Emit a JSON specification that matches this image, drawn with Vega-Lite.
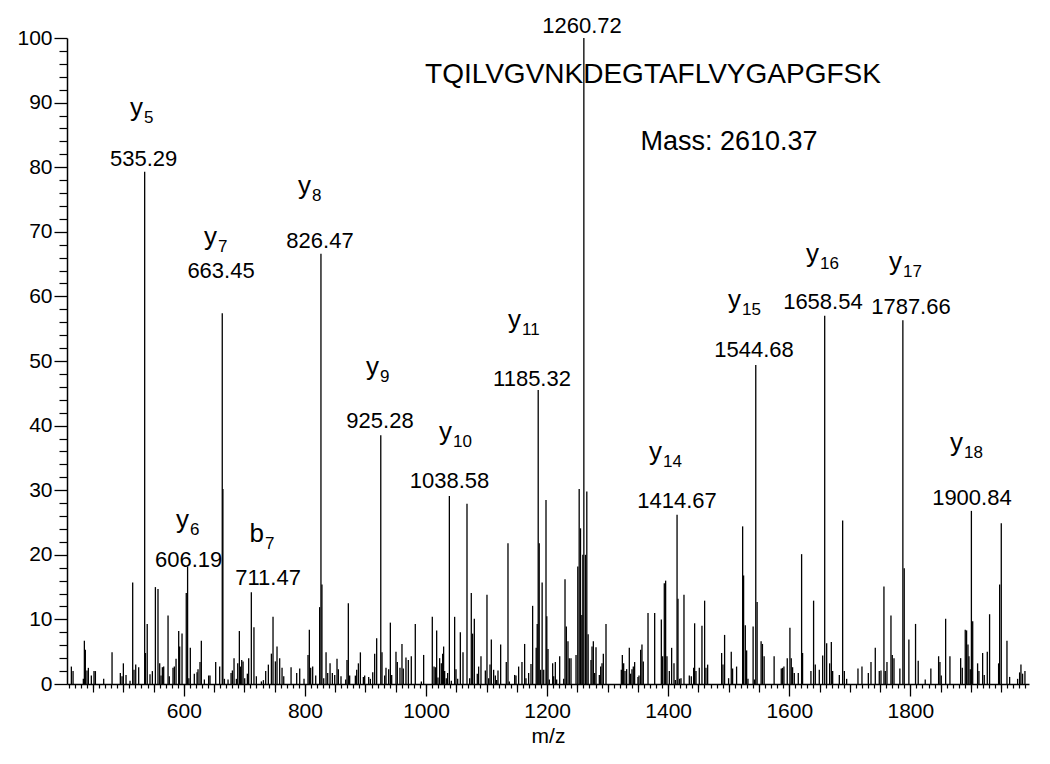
{
  "$schema": "https://vega.github.io/schema/vega-lite/v6.json",
  "width": 962,
  "height": 646,
  "autosize": {"type": "none"},
  "padding": {"left": 67, "top": 38, "right": 21, "bottom": 80},
  "background": "white",
  "config": {
    "view": {"stroke": null},
    "axis": {"domainColor": "black", "tickColor": "black", "labelColor": "black", "titleColor": "black", "grid": false, "labelFont": "Liberation Sans", "titleFont": "Liberation Sans"}
  },
  "datasets": {
    "peaks": [
      {"mz":414.2,"i":2.7},{"mz":417,"i":2.0},{"mz":434,"i":0.8},{"mz":435.7,"i":6.7},{"mz":437.3,"i":5.3},{"mz":440,"i":2.1},{"mz":442.3,"i":2.5},{"mz":447.2,"i":1.3},{"mz":451.6,"i":2.0},{"mz":453.9,"i":2.0},{"mz":467.6,"i":0.8},{"mz":481.4,"i":4.9},{"mz":495.1,"i":1.7},{"mz":497.9,"i":1.2},{"mz":500.1,"i":3.2},{"mz":504.5,"i":1.4},{"mz":511.1,"i":0.5},{"mz":515.5,"i":15.7},{"mz":517.7,"i":2.2},{"mz":520.5,"i":3.0},{"mz":525.4,"i":2.6},
      {"mz":535.29,"i":79.3},{"mz":536.6,"i":4.8},{"mz":539.5,"i":9.3},{"mz":544.1,"i":1.5},{"mz":548,"i":2.0},{"mz":553,"i":15.0},{"mz":557.3,"i":14.7},{"mz":560.1,"i":3.2},{"mz":562.3,"i":1.3},{"mz":564.5,"i":2.6},{"mz":566.7,"i":2.7},{"mz":573.9,"i":10.6},{"mz":576,"i":1.2},{"mz":582.1,"i":2.5},{"mz":584.3,"i":2.7},{"mz":587.1,"i":3.9},{"mz":591.5,"i":8.2},{"mz":593.1,"i":5.8},{"mz":597,"i":7.8},{"mz":604,"i":14.1},{"mz":606.19,"i":18.2},{"mz":608.3,"i":0.9},{"mz":610.7,"i":5.6},{"mz":617.3,"i":1.6},{"mz":621.8,"i":1.8},{"mz":623.4,"i":2.3},{"mz":626.7,"i":3.4},{"mz":628.9,"i":6.7},{"mz":633.9,"i":0.7},{"mz":641,"i":1.3},{"mz":643.2,"i":1.3},{"mz":652.6,"i":3.4},{"mz":659.2,"i":2.7},
      {"mz":663.45,"i":57.4},{"mz":664.5,"i":30.2},{"mz":667,"i":0.8},{"mz":673,"i":0.7},{"mz":678,"i":1.7},{"mz":680.2,"i":2.1},{"mz":682.9,"i":4.0},{"mz":686.8,"i":0.8},{"mz":689,"i":3.2},{"mz":691.7,"i":8.2},{"mz":693.4,"i":2.7},{"mz":695.6,"i":3.7},{"mz":697.8,"i":3.5},{"mz":700.5,"i":0.9},{"mz":704.9,"i":1.6},{"mz":707.1,"i":4.0},{"mz":711.47,"i":14.2},{"mz":715.8,"i":8.8},{"mz":719.8,"i":1.2},{"mz":728.1,"i":0.4},{"mz":731.4,"i":0.6},{"mz":735.2,"i":2.0},{"mz":739.6,"i":3.0},{"mz":744.6,"i":4.7},{"mz":747.3,"i":10.4},{"mz":751.2,"i":3.5},{"mz":753.9,"i":5.8},{"mz":758.3,"i":4.0},{"mz":762.2,"i":2.5},{"mz":765,"i":1.2},{"mz":777.1,"i":2.6},{"mz":786.4,"i":1.7},{"mz":791.4,"i":2.4},{"mz":798.5,"i":0.8},
      {"mz":805.1,"i":4.5},{"mz":807.3,"i":8.4},{"mz":809.5,"i":2.5},{"mz":812.8,"i":2.7},{"mz":817.8,"i":1.3},{"mz":824.3,"i":11.9},{"mz":826.47,"i":66.6},{"mz":828.1,"i":15.4},{"mz":831,"i":0.9},{"mz":834.9,"i":4.9},{"mz":837.6,"i":1.7},{"mz":841.5,"i":3.2},{"mz":845.3,"i":1.7},{"mz":849.2,"i":1.4},{"mz":853,"i":3.9},{"mz":855.2,"i":2.3},{"mz":859.6,"i":1.2},{"mz":867.3,"i":0.7},{"mz":869.5,"i":3.7},{"mz":871.7,"i":12.5},{"mz":873.9,"i":1.3},{"mz":883.3,"i":1.3},{"mz":885.5,"i":2.2},{"mz":888.3,"i":3.2},{"mz":891.6,"i":4.9},{"mz":896.5,"i":1.1},{"mz":898.7,"i":1.3},{"mz":905.3,"i":1.1},{"mz":908.1,"i":0.8},{"mz":912,"i":1.8},{"mz":915.2,"i":4.7},{"mz":918.5,"i":7.1},
      {"mz":925.28,"i":38.5},{"mz":927.3,"i":4.9},{"mz":931.7,"i":1.3},{"mz":933.9,"i":2.5},{"mz":938.3,"i":2.3},{"mz":941.1,"i":9.5},{"mz":943.3,"i":1.4},{"mz":950.4,"i":5.0},{"mz":952.6,"i":3.4},{"mz":957,"i":2.5},{"mz":960.3,"i":6.2},{"mz":962.5,"i":2.4},{"mz":966.9,"i":4.1},{"mz":970.8,"i":3.7},{"mz":975.7,"i":4.3},{"mz":982.3,"i":9.3},{"mz":992.3,"i":0.4},{"mz":996.1,"i":4.5},
      {"mz":1010.4,"i":10.4},{"mz":1013.2,"i":2.7},{"mz":1015.4,"i":2.6},{"mz":1017.6,"i":8.3},{"mz":1019.8,"i":1.0},{"mz":1022.5,"i":4.0},{"mz":1025.3,"i":3.2},{"mz":1027.5,"i":4.7},{"mz":1029.1,"i":5.8},{"mz":1030.8,"i":2.0},{"mz":1033.5,"i":0.9},{"mz":1035.7,"i":1.7},{"mz":1038.58,"i":29.1},{"mz":1041.8,"i":0.5},{"mz":1047.3,"i":10.4},{"mz":1049.5,"i":2.3},{"mz":1052.3,"i":0.8},{"mz":1056.7,"i":8.0},{"mz":1061.1,"i":4.9},{"mz":1067.7,"i":27.9},{"mz":1072.1,"i":0.9},{"mz":1074.8,"i":14.1},{"mz":1077,"i":7.8},{"mz":1079.8,"i":10.1},{"mz":1084.7,"i":1.6},{"mz":1086.9,"i":2.7},{"mz":1090.8,"i":4.3},{"mz":1098,"i":2.1},
      {"mz":1100.7,"i":13.8},{"mz":1103.5,"i":0.9},{"mz":1105.7,"i":3.0},{"mz":1107.9,"i":6.9},{"mz":1111.7,"i":2.2},{"mz":1114.5,"i":1.3},{"mz":1116.7,"i":0.6},{"mz":1118.9,"i":2.1},{"mz":1123.3,"i":6.1},{"mz":1132.6,"i":3.4},{"mz":1135.4,"i":21.8},{"mz":1137.6,"i":0.4},{"mz":1146.4,"i":1.4},{"mz":1148.6,"i":1.3},{"mz":1153,"i":2.7},{"mz":1158.5,"i":3.4},{"mz":1162.9,"i":6.2},{"mz":1165.1,"i":0.9},{"mz":1169.5,"i":1.7},{"mz":1173.4,"i":3.1},{"mz":1176.1,"i":12.1},{"mz":1182,"i":5.6},{"mz":1183.7,"i":9.3},{"mz":1185.32,"i":45.5},{"mz":1187,"i":21.8},{"mz":1189.2,"i":2.2},{"mz":1191.8,"i":15.7},{"mz":1194.4,"i":2.2},{"mz":1198.2,"i":28.5},{"mz":1199.5,"i":10.5},
      {"mz":1201.5,"i":5.4},{"mz":1203.7,"i":0.7},{"mz":1209.2,"i":3.2},{"mz":1210.9,"i":1.2},{"mz":1213.6,"i":3.4},{"mz":1215.8,"i":0.7},{"mz":1220.8,"i":4.3},{"mz":1227.4,"i":0.8},{"mz":1229.6,"i":16.2},{"mz":1231.8,"i":8.9},{"mz":1234.5,"i":6.6},{"mz":1236.7,"i":4.0},{"mz":1239.5,"i":4.0},{"mz":1247.8,"i":4.5},{"mz":1250.7,"i":18.2},{"mz":1253,"i":30.2},{"mz":1255.2,"i":24.1},{"mz":1257.4,"i":10.7},{"mz":1259,"i":20.0},{"mz":1260.72,"i":100},{"mz":1263.4,"i":20.0},{"mz":1265.6,"i":29.8},{"mz":1267.8,"i":7.7},{"mz":1272.5,"i":3.7},{"mz":1274.2,"i":5.8},{"mz":1276.4,"i":6.6},{"mz":1278.6,"i":1.7},{"mz":1280.8,"i":5.7},{"mz":1286.3,"i":1.4},{"mz":1288.5,"i":2.7},{"mz":1290.7,"i":3.2},{"mz":1292.9,"i":4.7},{"mz":1297.3,"i":9.3},
      {"mz":1322.6,"i":2.2},{"mz":1324.3,"i":4.5},{"mz":1326.5,"i":3.2},{"mz":1328.7,"i":2.0},{"mz":1331.4,"i":2.3},{"mz":1335.8,"i":5.6},{"mz":1338,"i":1.6},{"mz":1340.2,"i":2.3},{"mz":1342.4,"i":2.7},{"mz":1344.6,"i":3.4},{"mz":1350.1,"i":1.1},{"mz":1351.8,"i":1.3},{"mz":1354.5,"i":5.3},{"mz":1356.7,"i":6.1},{"mz":1358.9,"i":3.5},{"mz":1366.7,"i":11.0},{"mz":1377.7,"i":11.0},{"mz":1388.7,"i":10.0},{"mz":1390.9,"i":4.3},{"mz":1393.6,"i":15.6},{"mz":1395.8,"i":16.0},{"mz":1398,"i":4.3},
      {"mz":1401.9,"i":2.0},{"mz":1405.7,"i":5.6},{"mz":1409.6,"i":3.2},{"mz":1411.8,"i":0.6},{"mz":1414.67,"i":26.2},{"mz":1416.2,"i":13.2},{"mz":1419,"i":0.8},{"mz":1421.2,"i":0.9},{"mz":1426.1,"i":13.8},{"mz":1434.9,"i":1.3},{"mz":1438.2,"i":1.2},{"mz":1442.1,"i":2.5},{"mz":1443.7,"i":9.4},{"mz":1445.9,"i":2.0},{"mz":1451.4,"i":2.5},{"mz":1455.8,"i":9.0},{"mz":1460.2,"i":12.9},{"mz":1462.4,"i":2.5},{"mz":1465.2,"i":3.0},{"mz":1488.3,"i":4.8},{"mz":1490.5,"i":3.0},{"mz":1493.2,"i":7.6},{"mz":1499.8,"i":0.9},
      {"mz":1504.2,"i":5.0},{"mz":1506.4,"i":2.4},{"mz":1513,"i":2.7},{"mz":1523,"i":24.4},{"mz":1524.6,"i":16.8},{"mz":1527.4,"i":9.1},{"mz":1529.6,"i":5.2},{"mz":1531.8,"i":0.8},{"mz":1540.3,"i":8.9},{"mz":1542.5,"i":0.7},{"mz":1544.68,"i":49.4},{"mz":1546.9,"i":12.7},{"mz":1553.5,"i":6.6},{"mz":1555.7,"i":6.2},{"mz":1558.5,"i":4.3},{"mz":1575,"i":4.3},{"mz":1586.8,"i":2.4},{"mz":1589,"i":2.5},{"mz":1591.2,"i":2.7},{"mz":1596.7,"i":4.0},
      {"mz":1601.1,"i":8.7},{"mz":1603.3,"i":4.0},{"mz":1605.5,"i":2.6},{"mz":1608.3,"i":1.7},{"mz":1614.9,"i":1.7},{"mz":1620.4,"i":20.1},{"mz":1622,"i":4.8},{"mz":1635.8,"i":2.0},{"mz":1640.2,"i":12.9},{"mz":1643,"i":3.0},{"mz":1649.6,"i":2.2},{"mz":1655.2,"i":4.4},{"mz":1658.54,"i":57.0},{"mz":1661.8,"i":6.3},{"mz":1666.7,"i":3.2},{"mz":1669.5,"i":6.5},{"mz":1671.7,"i":2.0},{"mz":1682.7,"i":1.4},{"mz":1688.2,"i":25.3},{"mz":1691,"i":2.0},{"mz":1694.8,"i":0.8},
      {"mz":1713.5,"i":2.4},{"mz":1720.1,"i":2.7},{"mz":1730.6,"i":1.7},{"mz":1735,"i":3.4},{"mz":1742.1,"i":5.6},{"mz":1748.7,"i":2.0},{"mz":1751.5,"i":2.1},{"mz":1756.4,"i":15.1},{"mz":1758.6,"i":2.0},{"mz":1761.4,"i":3.4},{"mz":1768,"i":10.6},{"mz":1770.2,"i":4.5},{"mz":1773,"i":4.0},{"mz":1782.7,"i":2.4},{"mz":1787.66,"i":56.3},{"mz":1789.9,"i":17.9},{"mz":1797.6,"i":6.9},
      {"mz":1808.6,"i":9.3},{"mz":1813,"i":3.6},{"mz":1824.6,"i":0.7},{"mz":1833.9,"i":2.4},{"mz":1846.7,"i":4.3},{"mz":1848.9,"i":3.4},{"mz":1851.1,"i":1.3},{"mz":1858.3,"i":10.1},{"mz":1865.4,"i":4.3},{"mz":1883.1,"i":4.0},{"mz":1885.8,"i":2.5},{"mz":1890.7,"i":8.4},{"mz":1892.9,"i":8.3},{"mz":1895.2,"i":6.1},{"mz":1896.8,"i":4.3},{"mz":1899,"i":2.3},{"mz":1900.84,"i":26.8},{"mz":1903,"i":9.7},
      {"mz":1911.1,"i":3.2},{"mz":1913.3,"i":2.0},{"mz":1919.4,"i":4.8},{"mz":1922.1,"i":1.4},{"mz":1927.1,"i":5.0},{"mz":1930.9,"i":10.8},{"mz":1945.8,"i":3.2},{"mz":1947.5,"i":15.4},{"mz":1950.2,"i":24.9},{"mz":1959.6,"i":6.7},{"mz":1964,"i":1.1},{"mz":1977.2,"i":0.8},{"mz":1980.5,"i":1.8},{"mz":1982.7,"i":3.0},{"mz":1985.4,"i":1.6},{"mz":1989.3,"i":2.0}
    ],
    "ann": [
      {"ion":"y","sub":"5","ix":532.6,"iy":87.9,"num":"535.29","nx":533.5,"ny":80.2},
      {"ion":"y","sub":"6","ix":608.6,"iy":24.2,"num":"606.19","nx":607.8,"ny":18.15},
      {"ion":"b","sub":"7","ix":732.5,"iy":22.0,"num":"711.47","nx":739.1,"ny":15.4},
      {"ion":"y","sub":"7","ix":654.8,"iy":68.0,"num":"663.45","nx":661.4,"ny":62.9},
      {"ion":"y","sub":"8","ix":810.1,"iy":75.9,"num":"826.47","nx":824.9,"ny":67.5},
      {"ion":"y","sub":"9","ix":922.3,"iy":47.8,"num":"925.28","nx":924.0,"ny":39.7},
      {"ion":"y","sub":"10","ix":1042.9,"iy":37.8,"num":"1038.58","nx":1038.8,"ny":30.4},
      {"ion":"y","sub":"11","ix":1156.9,"iy":55.1,"num":"1185.32","nx":1175.1,"ny":46.2},
      {"ion":"","sub":"","ix":1257.6,"iy":100.8,"num":"1260.72","nx":1257.6,"ny":100.8},
      {"ion":"y","sub":"14","ix":1389.8,"iy":34.6,"num":"1414.67","nx":1414.5,"ny":27.3},
      {"ion":"y","sub":"15","ix":1520.2,"iy":58.2,"num":"1544.68","nx":1541.7,"ny":50.6},
      {"ion":"y","sub":"16","ix":1649.0,"iy":65.4,"num":"1658.54","nx":1655.6,"ny":58.1},
      {"ion":"y","sub":"17","ix":1786.1,"iy":64.1,"num":"1787.66","nx":1801.0,"ny":57.3},
      {"ion":"y","sub":"18","ix":1886.9,"iy":36.1,"num":"1900.84","nx":1901.7,"ny":27.7}
    ],
    "notes": [
      {"txt":"TQILVGVNKDEGTAFLVYGAPGFSK","x":1374.9,"y":93.0,"size":28},
      {"txt":"Mass: 2610.37","x":1500.4,"y":82.7,"size":27}
    ]
  },
  "resolve": {"axis": {"x": "independent", "y": "independent"}},
  "layer": [
    {
      "data": {"name": "peaks"},
      "mark": {"type": "rule", "color": "black", "strokeWidth": 1.3},
      "encoding": {
        "x": {"field": "mz", "type": "quantitative", "scale": {"domain": [407, 1996], "nice": false, "zero": false},
          "axis": {"orient": "bottom", "values": [600, 800, 1000, 1200, 1400, 1600, 1800], "format": "d", "tickSize": 12, "tickWidth": 1.3, "domainWidth": 1.5, "labelFontSize": 21, "labelPadding": 4, "labelFlush": false, "title": "m/z", "titleFontSize": 21, "titleFontWeight": "normal", "titlePadding": 4}},
        "y": {"field": "i", "type": "quantitative", "scale": {"domain": [0, 100], "nice": false},
          "axis": {"orient": "left", "values": [0, 10, 20, 30, 40, 50, 60, 70, 80, 90, 100], "format": "d", "tickSize": 13, "tickWidth": 1.3, "domainWidth": 1.5, "labelFontSize": 21, "labelPadding": 2, "title": null}},
        "y2": {"datum": 0}
      }
    },
    {
      "data": {"name": "ann"},
      "mark": {"type": "text", "align": "right", "baseline": "alphabetic", "fontSize": 26, "font": "Liberation Sans", "color": "black"},
      "encoding": {
        "x": {"field": "ix", "type": "quantitative",
          "axis": {"orient": "bottom", "values": [450, 500, 550, 650, 700, 750, 850, 900, 950, 1050, 1100, 1150, 1250, 1300, 1350, 1450, 1500, 1550, 1650, 1700, 1750, 1850, 1900, 1950], "tickSize": 8, "tickWidth": 1.2, "labels": false, "domain": false, "title": null}},
        "y": {"field": "iy", "type": "quantitative",
          "axis": {"orient": "left", "values": [2,4,6,8,12,14,16,18,22,24,26,28,32,34,36,38,42,44,46,48,52,54,56,58,62,64,66,68,72,74,76,78,82,84,86,88,92,94,96,98], "tickSize": 8, "tickWidth": 1.2, "labels": false, "domain": false, "title": null}},
        "text": {"field": "ion"}
      }
    },
    {
      "data": {"name": "ann"},
      "mark": {"type": "text", "align": "left", "baseline": "alphabetic", "fontSize": 17, "font": "Liberation Sans", "color": "black", "dx": 1, "dy": 7},
      "encoding": {
        "x": {"field": "ix", "type": "quantitative",
          "axis": {"orient": "bottom", "values": [410,420,430,440,450,460,470,480,490,500,510,520,530,540,550,560,570,580,590,600,610,620,630,640,650,660,670,680,690,700,710,720,730,740,750,760,770,780,790,800,810,820,830,840,850,860,870,880,890,900,910,920,930,940,950,960,970,980,990,1000,1010,1020,1030,1040,1050,1060,1070,1080,1090,1100,1110,1120,1130,1140,1150,1160,1170,1180,1190,1200,1210,1220,1230,1240,1250,1260,1270,1280,1290,1300,1310,1320,1330,1340,1350,1360,1370,1380,1390,1400,1410,1420,1430,1440,1450,1460,1470,1480,1490,1500,1510,1520,1530,1540,1550,1560,1570,1580,1590,1600,1610,1620,1630,1640,1650,1660,1670,1680,1690,1700,1710,1720,1730,1740,1750,1760,1770,1780,1790,1800,1810,1820,1830,1840,1850,1860,1870,1880,1890,1900,1910,1920,1930,1940,1950,1960,1970,1980,1990], "tickSize": 4, "tickWidth": 1.2, "labels": false, "domain": false, "title": null}},
        "y": {"field": "iy", "type": "quantitative", "axis": null},
        "text": {"field": "sub"}
      }
    },
    {
      "data": {"name": "ann"},
      "mark": {"type": "text", "align": "center", "baseline": "alphabetic", "fontSize": 22, "font": "Liberation Sans", "color": "black"},
      "encoding": {
        "x": {"field": "nx", "type": "quantitative", "axis": null},
        "y": {"field": "ny", "type": "quantitative", "axis": null},
        "text": {"field": "num"}
      }
    },
    {
      "data": {"name": "notes"},
      "mark": {"type": "text", "align": "center", "baseline": "alphabetic", "font": "Liberation Sans", "color": "black"},
      "encoding": {
        "x": {"field": "x", "type": "quantitative", "axis": null},
        "y": {"field": "y", "type": "quantitative", "axis": null},
        "text": {"field": "txt"},
        "size": {"field": "size", "type": "quantitative", "scale": null, "legend": null}
      }
    }
  ]
}
